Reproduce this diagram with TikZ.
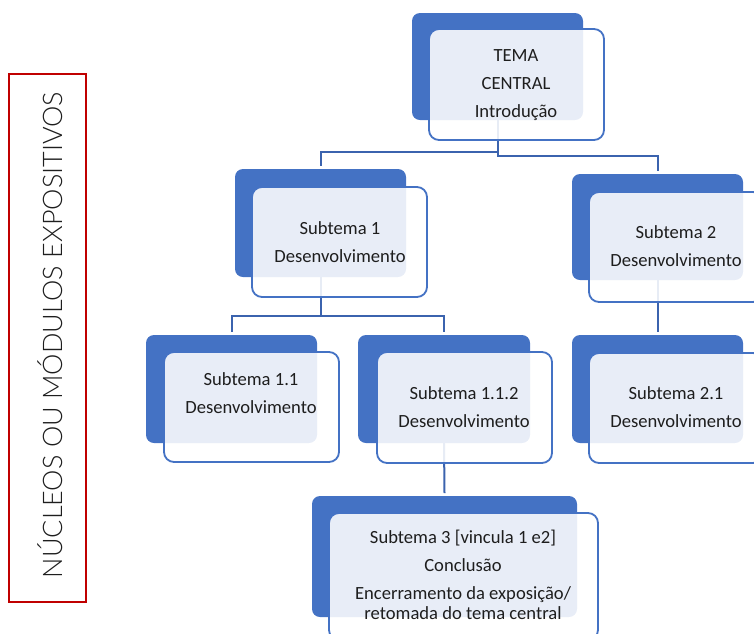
\documentclass[tikz,border=0pt]{standalone}
\usepackage{fontspec}
\setmainfont{Carlito}
\newfontfamily\sidefont{Lato Light}
\usepackage{graphicx}
\definecolor{boxblue}{RGB}{68,114,196}
\definecolor{linkblue}{RGB}{59,99,174}
\definecolor{frame}{RGB}{192,0,0}
\definecolor{ink}{RGB}{30,30,30}
\tikzset{
  backbox/.style 2 args={rectangle, rounded corners=8pt, fill=boxblue, draw=none,
    minimum width=#1, minimum height=#2, inner sep=0pt, outer sep=0pt},
  frontbox/.style 2 args={rectangle, rounded corners=10pt, fill=white, fill opacity=0.88,
    draw=boxblue, draw opacity=1, line width=1.8pt,
    minimum width=#1, minimum height=#2, inner sep=0pt, outer sep=0pt},
  boxtext/.style={align=center, text=ink, inner sep=0pt,
    font=\fontsize{18.6pt}{28pt}\selectfont},
  link/.style={draw=linkblue, line width=2pt},
}
\begin{document}
\begin{tikzpicture}[x=1pt, y=-1pt]
\useasboundingbox (0,0) rectangle (754,633);

% side caption in red frame
\node[draw=frame, line width=1.5pt, minimum width=77pt, minimum height=528pt,
      inner sep=0pt] (frameL) at (47.5,338) {};
\node[rotate=90, text=ink, font=\sidefont\fontsize{27pt}{30pt}\selectfont, inner sep=0pt]
      (sideT) at (50,335) {\resizebox{486pt}{!}{NÚCLEOS OU MÓDULOS EXPOSITIVOS}};

% blue back plates
\node[backbox={171pt}{107pt}] (tb)   at (497.5,66.5) {};
\node[backbox={171pt}{108pt}] (s1b)  at (320.5,223) {};
\node[backbox={171pt}{106pt}] (s2b)  at (657.5,227) {};
\node[backbox={171pt}{108pt}] (s11b) at (231.5,389) {};
\node[backbox={172pt}{108pt}] (s112b) at (444,389) {};
\node[backbox={171pt}{108pt}] (s21b) at (657.5,389) {};
\node[backbox={265pt}{121pt}] (s3b)  at (444.5,556.5) {};

% elbow connectors
\draw[link] (tb.south) -- ++(0,32) -| ([yshift=3pt]s1b.north);
\draw[link] (tb.south) -- ++(0,36) -| ([yshift=3pt]s2b.north);
\draw[link] (s1b.south) -- ++(0,39) -| ([yshift=3pt]s11b.north);
\draw[link] (s1b.south) -- ++(0,39) -| ([yshift=3pt]s112b.north);
\draw[link] (s2b.south) -- ([yshift=3pt]s21b.north);
\draw[link] (s112b.south) -- ([yshift=3pt]s3b.north);

% translucent front cards
\node[frontbox={175pt}{111pt}] (tf)   at (516.5,84.5) {};
\node[frontbox={175pt}{110pt}] (s1f)  at (339.5,242) {};
\node[frontbox={174pt}{110pt}] (s2f)  at (676,247) {};
\node[frontbox={175pt}{110pt}] (s11f) at (251.5,407) {};
\node[frontbox={175pt}{111pt}] (s112f) at (464.5,407.5) {};
\node[frontbox={174pt}{110pt}] (s21f) at (676,408) {};
\node[frontbox={269pt}{127pt}] (s3f)  at (463.5,576.5) {};

% card texts
\node[boxtext] (tt)   at (516,85)    {TEMA\\CENTRAL\\Introdução};
\node[boxtext] (s1t)  at (340,242.5) {Subtema 1\\Desenvolvimento};
\node[boxtext] (s2t)  at (676,246)   {Subtema 2\\Desenvolvimento};
\node[boxtext] (s11t) at (251,393)   {Subtema 1.1\\Desenvolvimento};
\node[boxtext] (s112t) at (464,407)  {Subtema 1.1.2\\Desenvolvimento};
\node[boxtext] (s21t) at (676,407.5) {Subtema 2.1\\Desenvolvimento};
\node[boxtext] (s3t)  at (463,574.5)
  {Subtema 3 [vincula 1 e2]\\Conclusão\\Encerramento da exposição/\\[-8pt]retomada do tema central};
\end{tikzpicture}
\end{document}
